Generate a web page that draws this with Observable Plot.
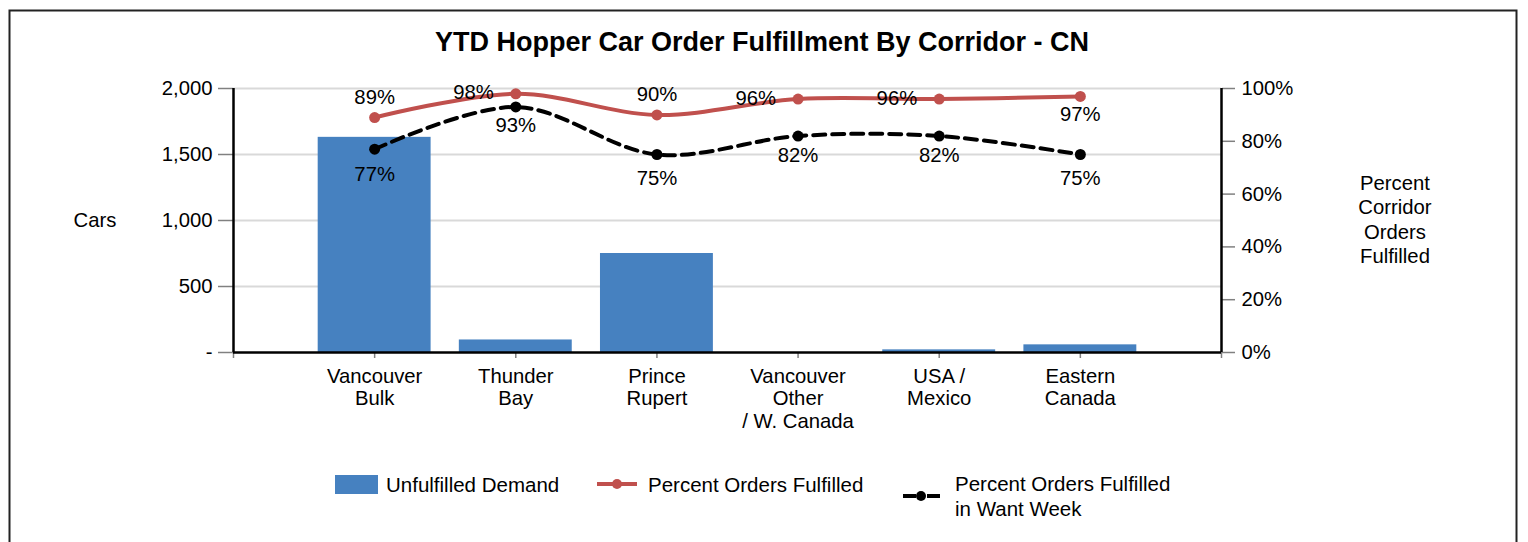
<!DOCTYPE html>
<html>
<head>
<meta charset="utf-8">
<script src="https://cdn.jsdelivr.net/npm/d3@7"></script>
<script src="https://cdn.jsdelivr.net/npm/@observablehq/plot@0.6"></script>
<style>
  html, body { margin: 0; padding: 0; background: #fff; }
  #chart { width: 1528px; height: 542px; overflow: hidden; }
</style>
</head>
<body>
<div id="chart"></div>
<script>
// ---- data ----
const corridors = ["Vancouver\nBulk", "Thunder\nBay", "Prince\nRupert", "Vancouver\nOther\n/ W. Canada", "USA /\nMexico", "Eastern\nCanada"];
const unfulfilledDemand = [1630, 95, 750, 0, 20, 58];
const pctOrdersFulfilled = [89, 98, 90, 96, 96, 97];
const pctWantWeek = [77, 93, 75, 82, 82, 75];
const carTicks = [0, 500, 1000, 1500, 2000];
const pctTicks = [0, 20, 40, 60, 80, 100];
const titleText = "YTD Hopper Car Order Fulfillment By Corridor - CN";
const leftAxisTitle = "Cars";
const rightAxisTitle = ["Percent", "Corridor", "Orders", "Fulfilled"];
const legendLabels = ["Unfulfilled Demand", "Percent Orders Fulfilled", "Percent Orders Fulfilled\nin Want Week"];

// ---- build ----
const K = 2000 / 100; // percent -> cars scale factor (secondary axis)
const data = corridors.map((c, k) => ({
  i: k + 1, c, v: unfulfilledDemand[k], p: pctOrdersFulfilled[k], w: pctWantWeek[k]
}));
const BLUE = "#4681c0", RED = "#c0504d";
const FONT = "'Liberation Sans', Arial, sans-serif";
const redSide = ["top", "left", "top", "left", "left", "bottom"];
const blackDy = [25, 19, 24, 19, 19, 24];

const chart = Plot.plot({
  width: 1528, height: 542,
  marginTop: 88, marginBottom: 190, marginLeft: 233, marginRight: 307,
  x: { type: "linear", domain: [0, 7], axis: null },
  y: { type: "linear", domain: [0, 2000], axis: null },
  style: { fontFamily: FONT, fontSize: "20.3px", color: "#000", background: "#fff", overflow: "visible" },
  marks: [
    Plot.ruleY(carTicks.filter(d => d > 0), { stroke: "#d9d9d9", strokeWidth: 2 }),
    Plot.rect(data, { x1: d => d.i - 0.4, x2: d => d.i + 0.4, y1: 0, y2: "v", fill: BLUE }),
    Plot.axisY({ anchor: "left", ticks: carTicks, tickFormat: d => d === 0 ? "-" : d3.format(",")(d),
      tickSize: 15, tickPadding: 6, stroke: "#808080", strokeWidth: 1.5, label: null }),
    Plot.axisY({ anchor: "right", ticks: pctTicks.map(p => p * K), tickFormat: d => (d / K) + "%",
      tickSize: 13, tickPadding: 7, stroke: "#808080", strokeWidth: 1.5, label: null }),
    Plot.axisX({ ticks: d3.range(0, 8), tickFormat: t => corridors[t - 1] ?? "",
      tickSize: 6, tickPadding: 8, lineHeight: 1.12, stroke: "#808080", strokeWidth: 1.5, label: null }),
    Plot.ruleX([0, 7], { stroke: "#000", strokeWidth: 2.5 }),
    Plot.ruleY([0], { stroke: "#000", strokeWidth: 2.5 }),
    // percent fulfilled
    Plot.line(data, { x: "i", y: d => d.p * K, stroke: RED, strokeWidth: 4, curve: "catmull-rom" }),
    Plot.dot(data, { x: "i", y: d => d.p * K, r: 5.5, fill: RED }),
    // percent fulfilled in want week
    Plot.line(data, { x: "i", y: d => d.w * K, stroke: "#000", strokeWidth: 4, strokeDasharray: "12,7", curve: "catmull-rom" }),
    Plot.dot(data, { x: "i", y: d => d.w * K, r: 5.5, fill: "#000" }),
    // labels
    Plot.text(data.filter(d => redSide[d.i - 1] === "top"), { x: "i", y: d => d.p * K, text: d => d.p + "%", dy: -20, fill: "#000" }),
    Plot.text(data.filter(d => redSide[d.i - 1] === "bottom"), { x: "i", y: d => d.p * K, text: d => d.p + "%", dy: 18, fill: "#000" }),
    Plot.text(data.filter(d => redSide[d.i - 1] === "left"), { x: "i", y: d => d.p * K, text: d => d.p + "%", dx: -22, dy: -1, textAnchor: "end", fill: "#000" }),
    ...[19, 24, 25].map(off => Plot.text(data.filter(d => blackDy[d.i - 1] === off), { x: "i", y: d => d.w * K, text: d => d.w + "%", dy: off, fill: "#000" }))
  ]
});

const svg = d3.select(chart);
// frame border
svg.insert("rect", ":first-child").attr("x", 9.5).attr("y", 10.5).attr("width", 1507).attr("height", 600)
  .attr("fill", "none").attr("stroke", "#222").attr("stroke-width", 2);
// title
svg.append("text").attr("x", 762).attr("y", 42).attr("text-anchor", "middle").attr("dominant-baseline", "central")
  .attr("font-weight", "bold").attr("font-size", 27).attr("font-family", FONT).attr("fill", "#000").text(titleText);
// axis titles
svg.append("text").attr("x", 95).attr("y", 220).attr("text-anchor", "middle").attr("dominant-baseline", "central")
  .attr("font-size", 20.3).attr("font-family", FONT).attr("fill", "#000").text(leftAxisTitle);
rightAxisTitle.forEach((t, k) => {
  svg.append("text").attr("x", 1395).attr("y", 183 + k * 24.3).attr("text-anchor", "middle").attr("dominant-baseline", "central")
    .attr("font-size", 20.3).attr("font-family", FONT).attr("fill", "#000").text(t);
});
// legend
const lg = svg.append("g").attr("font-family", FONT).attr("font-size", 20.5).attr("fill", "#000").attr("text-anchor", "start");
lg.append("rect").attr("x", 335).attr("y", 475).attr("width", 43).attr("height", 19).attr("fill", BLUE);
lg.append("text").attr("x", 386).attr("y", 484).attr("dominant-baseline", "central").attr("text-anchor", "start").text(legendLabels[0]);
lg.append("line").attr("x1", 597).attr("x2", 637).attr("y1", 484).attr("y2", 484).attr("stroke", RED).attr("stroke-width", 4);
lg.append("circle").attr("cx", 617).attr("cy", 484).attr("r", 5).attr("fill", RED);
lg.append("text").attr("x", 648).attr("y", 484).attr("dominant-baseline", "central").attr("text-anchor", "start").text(legendLabels[1]);
lg.append("line").attr("x1", 903).attr("x2", 940).attr("y1", 496).attr("y2", 496).attr("stroke", "#000").attr("stroke-width", 4).attr("stroke-dasharray", "13,11");
lg.append("circle").attr("cx", 921).attr("cy", 496).attr("r", 5).attr("fill", "#000");
legendLabels[2].split("\n").forEach((t, k) => {
  lg.append("text").attr("x", 955).attr("y", 483 + k * 25).attr("dominant-baseline", "central").attr("text-anchor", "start").text(t);
});

document.getElementById("chart").appendChild(chart);
</script>
</body>
</html>
